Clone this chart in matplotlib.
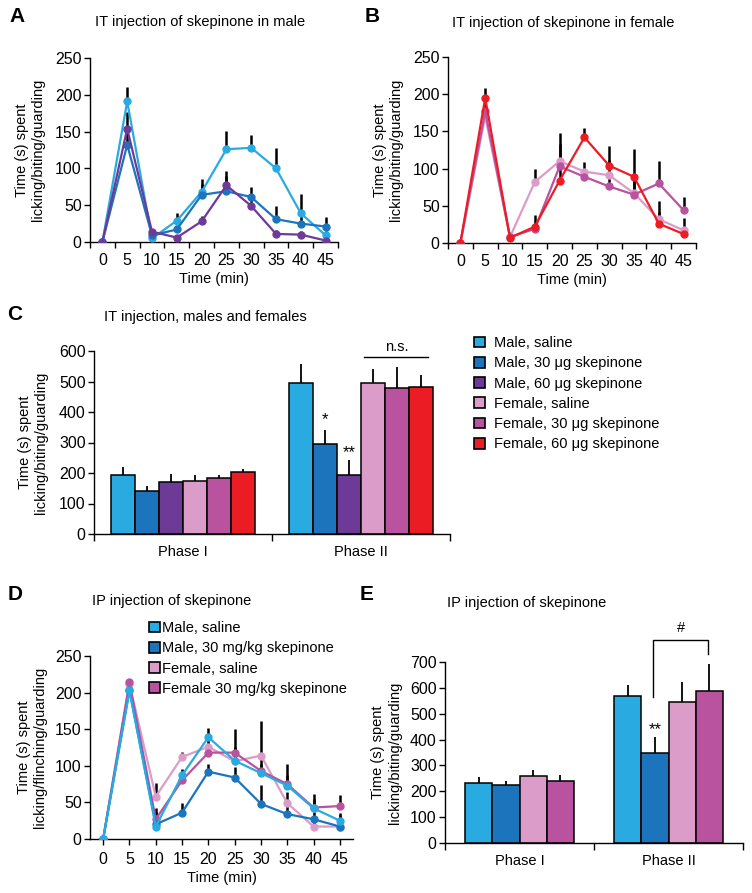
import matplotlib
matplotlib.use('Agg')
import matplotlib.pyplot as plt
from matplotlib.patches import Patch
import numpy as np

plt.rcParams['font.family'] = ['Liberation Sans', 'DejaVu Sans']
plt.rcParams['font.size'] = 10.5
plt.rcParams['axes.linewidth'] = 1.0

# ---------------- data ----------------
time_min = [0, 5, 10, 15, 20, 25, 30, 35, 40, 45]

# Panel A: IT injection, male (mean, upward SEM)
a_male_saline = [0, 191, 5, 29, 68, 126, 128, 100, 39, 9]
a_male_saline_err = [0, 20, 3, 11, 18, 25, 17, 28, 26, 6]
a_male_30 = [0, 132, 9, 17, 64, 69, 61, 31, 25, 21]
a_male_30_err = [0, 20, 4, 5, 15, 20, 14, 18, 12, 13]
a_male_60 = [0, 154, 14, 6, 28, 77, 49, 11, 10, 2]
a_male_60_err = [0, 22, 3, 3, 7, 19, 10, 5, 5, 3]

# Panel B: IT injection, female
b_female_saline = [0, 170, 8, 82, 110, 96, 91, 67, 32, 17]
b_female_saline_err = [0, 10, 4, 17, 38, 13, 20, 25, 10, 17]
b_female_30 = [0, 177, 8, 19, 103, 89, 76, 65, 80, 44]
b_female_30_err = [0, 12, 4, 8, 30, 10, 14, 18, 30, 18]
b_female_60 = [0, 195, 7, 22, 84, 142, 104, 89, 26, 12]
b_female_60_err = [0, 13, 8, 16, 30, 13, 27, 38, 30, 10]

# Panel C: IT injection, phase totals
c_groups = ['Male, saline', 'Male, 30 \u03bcg skepinone', 'Male, 60 \u03bcg skepinone',
            'Female, saline', 'Female, 30 \u03bcg skepinone', 'Female, 60 \u03bcg skepinone']
c_phases = ['Phase I', 'Phase II']
c_phase1 = [194, 141, 170, 173, 182, 203]
c_phase1_err = [25, 17, 26, 20, 11, 11]
c_phase2 = [496, 296, 192, 495, 478, 481]
c_phase2_err = [61, 45, 51, 46, 70, 40]

# Panel D: IP injection time course
d_male_saline = [0, 203, 17, 87, 139, 107, 90, 73, 42, 25]
d_male_saline_err = [0, 12, 10, 8, 13, 15, 12, 14, 12, 8]
d_male_30 = [0, 203, 20, 36, 92, 84, 48, 34, 27, 17]
d_male_30_err = [0, 10, 22, 13, 11, 14, 26, 12, 10, 19]
d_female_saline = [0, 212, 58, 112, 126, 106, 114, 49, 17, 17]
d_female_saline_err = [0, 6, 19, 7, 12, 20, 47, 15, 8, 8]
d_female_30 = [0, 214, 27, 80, 118, 118, 93, 75, 43, 45]
d_female_30_err = [0, 5, 10, 10, 12, 32, 25, 27, 19, 15]
d_labels = ['Male, saline', 'Male, 30 mg/kg skepinone', 'Female, saline',
            'Female 30 mg/kg skepinone']

# Panel E: IP injection, phase totals
e_phase1 = [232, 224, 258, 240]
e_phase1_err = [23, 15, 24, 23]
e_phase2 = [567, 347, 545, 589]
e_phase2_err = [45, 63, 76, 102]

# ---------------- colours ----------------
LB = '#29ABE2'
DB = '#1C75BC'
PU = '#6E3A98'
PK = '#DB9CC9'
MG = '#B9529F'
RD = '#EC1C24'

YLAB = 'Time (s) spent\nlicking/biting/guarding'
TICK_FS = 11.5

fig = plt.figure(figsize=(7.52, 8.93), dpi=100)
W, H = 752.0, 893.0


def add_axes_px(left, top, right, bottom):
    return fig.add_axes([left / W, 1 - bottom / H, (right - left) / W, (bottom - top) / H])


def base_style(ax):
    for s in ['top', 'right']:
        ax.spines[s].set_visible(False)
    ax.tick_params(axis='y', direction='out', length=4, width=1, pad=2, labelsize=TICK_FS)


def line_panel(ax, series, ymax, between=True):
    x = np.array(time_min)
    for mean, err, c in series:
        ax.errorbar(x, mean, yerr=[np.zeros(len(err)), err], fmt='none',
                    ecolor='black', elinewidth=1.8, capsize=0, zorder=1)
    for i, (mean, err, c) in enumerate(series):
        ax.plot(x, mean, '-o', color=c, lw=1.6, ms=5, zorder=3 + i)
    ax.set_xlim(-2.5, 47.5)
    ax.set_ylim(0, ymax)
    ax.set_yticks(np.arange(0, ymax + 1, 50))
    ax.set_xticks(x)
    ax.set_xticklabels([str(t) for t in time_min])
    if between:
        ax.set_xticks(np.arange(-2.5, 48, 5), minor=True)
        ax.tick_params(axis='x', which='major', length=0, pad=8, labelsize=TICK_FS)
        ax.tick_params(axis='x', which='minor', direction='out', length=4, width=1)
    else:
        ax.tick_params(axis='x', which='major', direction='out', length=4, width=1,
                       pad=5, labelsize=TICK_FS)
    ax.set_xlabel('Time (min)', labelpad=3, fontsize=10.5)
    base_style(ax)


def bar_panel(ax, p1, p1e, p2, p2e, colors, width, ymax, ystep):
    n = len(colors)
    offs = (np.arange(n) - (n - 1) / 2) * width
    for ci, (vals, errs) in enumerate([(p1, p1e), (p2, p2e)]):
        xs = 0.5 + ci + offs
        ax.bar(xs, vals, width=width, color=colors, edgecolor='black', linewidth=1.1, zorder=2)
        ax.errorbar(xs, vals, yerr=[np.zeros(n), errs], fmt='none', ecolor='black',
                    elinewidth=1.3, capsize=0, zorder=1)
    ax.set_xlim(0, 2)
    ax.set_ylim(0, ymax)
    ax.set_yticks(np.arange(0, ymax + 1, ystep))
    ax.set_xticks([0.5, 1.5])
    ax.set_xticklabels(c_phases)
    ax.set_xticks([0, 1, 2], minor=True)
    ax.tick_params(axis='x', which='major', length=0, pad=8, labelsize=10.5)
    ax.tick_params(axis='x', which='minor', direction='out', length=5, width=1)
    base_style(ax)
    return offs


# ---------------- Panel A ----------------
axA = add_axes_px(90, 58, 338, 242)
line_panel(axA, [(a_male_saline, a_male_saline_err, LB),
                 (a_male_30, a_male_30_err, DB),
                 (a_male_60, a_male_60_err, PU)], 250)
axA.set_ylabel(YLAB, labelpad=7)

# ---------------- Panel B ----------------
axB = add_axes_px(448, 57, 696, 243)
line_panel(axB, [(b_female_saline, b_female_saline_err, PK),
                 (b_female_30, b_female_30_err, MG),
                 (b_female_60, b_female_60_err, RD)], 250)
axB.set_ylabel(YLAB, labelpad=7)

# ---------------- Panel C ----------------
axC = add_axes_px(94, 351, 450, 534)
c_colors = [LB, DB, PU, PK, MG, RD]
offs = bar_panel(axC, c_phase1, c_phase1_err, c_phase2, c_phase2_err, c_colors, 0.134, 600, 100)
axC.set_ylabel(YLAB, labelpad=8)
axC.text(1.5 + offs[1], 374, '*', ha='center', va='center', fontsize=12)
axC.text(1.5 + offs[2], 268, '**', ha='center', va='center', fontsize=12)
axC.plot([1.517, 1.878], [581, 581], color='black', lw=1.0, clip_on=False)
axC.text(1.5 + (offs[3] + offs[5]) / 2, 612, 'n.s.', ha='center', va='center', fontsize=10.5)
hC = [Patch(facecolor=c, edgecolor='black', linewidth=1.2) for c in c_colors]
fig.legend(hC, c_groups, loc='upper left', bbox_to_anchor=(474 / W, 1 - 336 / H),
           frameon=False, borderpad=0, handlelength=0.75, handleheight=0.75,
           handletextpad=0.6, labelspacing=0.43, fontsize=10.5, borderaxespad=0)

# ---------------- Panel D ----------------
axD = add_axes_px(90, 656, 353, 839)
line_panel(axD, [(d_female_saline, d_female_saline_err, PK),
                 (d_female_30, d_female_30_err, MG),
                 (d_male_30, d_male_30_err, DB),
                 (d_male_saline, d_male_saline_err, LB)], 250, between=False)
axD.set_ylabel('Time (s) spent\nlicking/flinching/guarding', labelpad=6)
hD = [Patch(facecolor=c, edgecolor='black', linewidth=1.2) for c in [LB, DB, PK, MG]]
fig.legend(hD, d_labels, loc='upper left', bbox_to_anchor=(149 / W, 1 - 621 / H),
           frameon=False, borderpad=0, handlelength=0.75, handleheight=0.75,
           handletextpad=0.15, labelspacing=0.43, fontsize=10.5, borderaxespad=0)

# ---------------- Panel E ----------------
axE = add_axes_px(445, 662, 743, 843)
e_colors = [LB, DB, PK, MG]
offsE = bar_panel(axE, e_phase1, e_phase1_err, e_phase2, e_phase2_err, e_colors, 0.183, 700, 100)
axE.set_ylabel(YLAB, labelpad=6)
axE.text(1.5 + offsE[1], 440, '**', ha='center', va='center', fontsize=12)
xl, xr = 1.5 + offsE[1] - 0.01, 1.5 + offsE[3] - 0.01
axE.plot([xl, xl, xr, xr], [563, 785, 785, 730], color='black', lw=1.0, clip_on=False)
axE.text((xl + xr) / 2, 830, '#', ha='center', va='center', fontsize=10.5)

# ---------------- titles & panel letters ----------------
fig.text(200 / W, 1 - 22 / H, 'IT injection of skepinone in male', ha='center', va='center', fontsize=10.5)
fig.text(563 / W, 1 - 23 / H, 'IT injection of skepinone in female', ha='center', va='center', fontsize=10.5)
fig.text(205 / W, 1 - 317 / H, 'IT injection, males and females', ha='center', va='center', fontsize=10.5)
fig.text(172 / W, 1 - 601 / H, 'IP injection of skepinone', ha='center', va='center', fontsize=10.5)
fig.text(527 / W, 1 - 603 / H, 'IP injection of skepinone', ha='center', va='center', fontsize=10.5)

for letter, xp, yp in [('A', 17, 17), ('B', 372, 17), ('C', 15, 314), ('D', 15, 595), ('E', 367, 595)]:
    fig.text(xp / W, 1 - yp / H, letter, ha='center', va='center', fontsize=15, fontweight='bold')

fig.savefig('out.png', dpi=100)
